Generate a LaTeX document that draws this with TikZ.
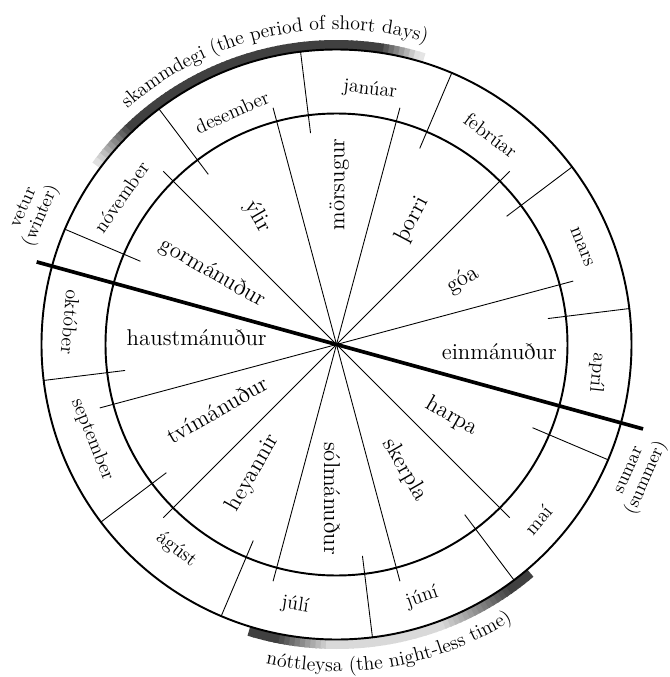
\documentclass[tikz,border=0pt]{standalone}
\usepackage{fontspec}
\usepackage{tikz}
\usetikzlibrary{decorations.text}

\begin{document}
\begin{tikzpicture}[x=0.02cm, y=0.02cm,
  ring/.style={line width=1.1pt},
  spoke/.style={line width=0.5pt},
  divide/.style={line width=2.1pt},
  inmonth/.style={font=\fontsize{13}{15}\selectfont, inner sep=0pt},
  outmonth/.style={font=\fontsize{11.3}{13}\selectfont, inner sep=0pt},
  season/.style={font=\fontsize{10.5}{11}\selectfont, align=center, inner sep=0pt}]
\useasboundingbox (-336.5,-332.5) rectangle (333.5,344.5);
\coordinate (c) at (0,0);
% shaded bands
\foreach \a in {73,...,142}{
  \pgfmathsetmacro\sh{max(10,min(75,75-7*(\a-133),75-9*(81-\a)))}
  \draw[line width=0.18cm, black!\sh] (\a:300) arc[start angle=\a, end angle=\a+1.3, radius=300];
}
\foreach \a in {253,...,309}{
  \pgfmathsetmacro\sh{min(75,max(15,75-6*(\a-258),75-4*(305-\a)))}
  \draw[line width=0.18cm, black!\sh] (\a:300) arc[start angle=\a, end angle=\a+1.3, radius=300];
}
% rings
\draw[ring] (c) circle[radius=295];
\draw[ring] (c) circle[radius=231];
\foreach \a in {15,45,75,105,135,195,225,255,285,315}
  \draw[spoke] (c) -- (\a:245);
\foreach \a in {7,37,67,97,127,157,187,217,247,277,307,337}
  \draw[spoke] (\a:213) -- (\a:295);
\draw[divide] (164.6:311) -- (-15.4:318);
% old months
\node[inmonth] (einman) at (-2.6:163) {einmánuður};
\node[inmonth, rotate=30] (goa) at (27:142) {góa};
\node[inmonth, rotate=62] (thorri) at (58.8:146) {þorri};
\node[inmonth, rotate=90] (morsugur) at (89:160) {mörsugur};
\node[inmonth, rotate=-60] (ylir) at (121.6:150) {ýlir};
\node[inmonth, rotate=-30] (gorman) at (150:143) {gormánuður};
\node[inmonth] (haustman) at (177:140) {haustmánuður};
\node[inmonth, rotate=30] (tviman) at (208.7:136) {tvímánuður};
\node[inmonth, rotate=60] (heyannir) at (237:153) {heyannir};
\node[inmonth, rotate=-90] (solman) at (268.3:154) {sólmánuður};
\node[inmonth, rotate=-60] (skerpla) at (-61.4:143) {skerpla};
\node[inmonth, rotate=-30] (harpa) at (-32:136) {harpa};
% modern months
\node[outmonth, rotate=-7] (jan) at (82.5:257) {janúar};
\node[outmonth, rotate=-37] (feb) at (53.6:260) {febrúar};
\node[outmonth, rotate=-68] (mar) at (21.7:264) {mars};
\node[outmonth, rotate=-96] (apr) at (-6.2:262) {apríl};
\node[outmonth, rotate=50] (mai) at (-41:267) {maí};
\node[outmonth, rotate=19] (jun) at (-71.3:267) {júní};
\node[outmonth, rotate=-9] (jul) at (261:264) {júlí};
\node[outmonth, rotate=-38] (agu) at (232:260) {ágúst};
\node[outmonth, rotate=-68] (sep) at (201.3:262) {september};
\node[outmonth, rotate=-95] (okt) at (175.2:267) {október};
\node[outmonth, rotate=55] (nov) at (145.6:261) {nóvember};
\node[outmonth, rotate=24] (des) at (114.2:255) {desember};
% seasons
\node[season, rotate=66] (vetur) at (156.4:331) {vetur\\(winter)};
\node[season, rotate=66] (sumar) at (-23.3:330) {sumar\\(summer)};
\path[decorate, decoration={text along path, text align=center,
  text={|\fontsize{11.3}{13}\selectfont|skammdegi (the period of short days)}}]
  (150:315) arc[start angle=150, end angle=55, radius=315];
\path[decorate, decoration={text along path, text align=center,
  text={|\fontsize{11.3}{13}\selectfont|nóttleysa (the night-less time)}}]
  (235:327) arc[start angle=235, end angle=325, radius=327];
\end{tikzpicture}
\end{document}
